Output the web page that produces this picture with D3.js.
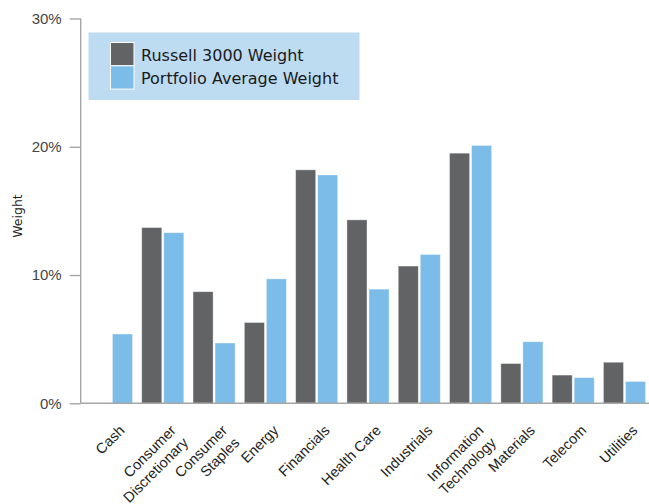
<!DOCTYPE html>
<html lang="en">
<head>
<meta charset="utf-8">
<title>Sector Weights</title>
<script src="https://d3js.org/d3.v7.min.js"></script>
<style type="text/css">
	body { margin: 0; background: #fff; }
	svg { display: block; font-family: "DejaVu Sans", sans-serif; }
	.axis path, .axis line { stroke: #a6a6a6; stroke-width: 1.4px; }
	.yaxis text { font-size: 15px; fill: #444; }
	.xaxis text { font-size: 14.5px; fill: #222; }
</style>
</head>
<body>
<script type="text/javascript">

// data (percent)
var categories = ["Cash", "Consumer\nDiscretionary", "Consumer\nStaples", "Energy", "Financials",
	"Health Care", "Industrials", "Information\nTechnology", "Materials", "Telecom", "Utilities"];
var russell = [0, 13.7, 8.7, 6.3, 18.2, 14.3, 10.7, 19.5, 3.1, 2.2, 3.2];
var portfolio = [5.4, 13.3, 4.7, 9.7, 17.8, 8.9, 11.6, 20.1, 4.8, 2.0, 1.7];
var seriesNames = ["Russell 3000 Weight", "Portfolio Average Weight"];
var yTicks = [0, 10, 20, 30];

var colors = ["#626365", "#7bbce8"];

// window size
var w = 649, h = 504;
var padLeft = 80.7, padTop = 18.5, baseY = 403.3;

var rows = categories.map(function(c, i){
	return {cat: c, values: [russell[i], portfolio[i]]};
});

var svg = d3.select("body").append("svg")
	.attr("width", w)
	.attr("height", h);

// scales
var x0 = d3.scaleBand()
	.domain(categories)
	.range([padLeft, padLeft + 51.3 * 11.2])
	.paddingInner(0.18)
	.paddingOuter(0.19);

var x1 = d3.scaleBand()
	.domain([0, 1])
	.range([0, x0.bandwidth()])
	.paddingInner(0.09);

var y = d3.scaleLinear().domain([0, 30]).range([baseY, padTop]);

// bars
var groups = svg.append("g").selectAll("g")
	.data(rows)
	.enter().append("g")
	.attr("transform", d => "translate(" + x0(d.cat) + ",0)");

groups.selectAll("rect")
	.data(d => d.values.map((v, k) => ({k: k, v: v})).filter(e => e.v > 0))
	.enter().append("rect")
	.attr("x", e => x1(e.k))
	.attr("y", e => y(e.v))
	.attr("width", x1.bandwidth())
	.attr("height", e => y(0) - y(e.v))
	.attr("fill", e => colors[e.k])
	.attr("stroke", "#fff")
	.attr("stroke-opacity", 0.45)
	.attr("stroke-width", 0.8);

// y axis
svg.append("g")
	.attr("class", "axis yaxis")
	.attr("transform", "translate(" + padLeft + ",0)")
	.call(d3.axisLeft(y).tickValues(yTicks).tickSize(11).tickPadding(8).tickFormat(d => d + "%"))
	.call(g => g.select(".domain").attr("d", "M0," + padTop + "V" + baseY));

// x axis
var xg = svg.append("g")
	.attr("class", "axis xaxis")
	.attr("transform", "translate(0," + baseY + ")")
	.call(d3.axisBottom(x0).tickSize(0).tickSizeOuter(0));

xg.select(".domain").attr("d", "M" + padLeft + ",0H" + w);

xg.selectAll(".tick text")
	.attr("y", 0)
	.attr("dy", 0)
	.attr("text-anchor", "end")
	.attr("transform", "translate(14,28) rotate(-45)")
	.each(function(d){
		var t = d3.select(this);
		t.text(null);
		d.split("\n").forEach(function(line, i){
			t.append("tspan").attr("x", 0).attr("dy", i ? "1.2em" : 0).text(line);
		});
	});

// y label
svg.append("text")
	.attr("transform", "translate(21.5,216) rotate(-90)")
	.attr("text-anchor", "middle")
	.style("font-size", "12.5px")
	.attr("fill", "#222")
	.text("Weight");

// legend
var legend = svg.append("g").attr("transform", "translate(88.5,32.5)");
legend.append("rect")
	.attr("width", 271)
	.attr("height", 67.5)
	.attr("fill", "#bddbf1");

var items = legend.selectAll("g.item")
	.data(seriesNames)
	.enter().append("g")
	.attr("class", "item")
	.attr("transform", (d, i) => "translate(22," + (10 + i * 23.3) + ")");

items.append("rect")
	.attr("width", 23.5)
	.attr("height", 23.3)
	.attr("fill", (d, i) => colors[i])
	.attr("stroke", "#fff")
	.attr("stroke-width", 1);

items.append("text")
	.attr("x", 30.5)
	.attr("y", 18.5)
	.style("font-size", "16px")
	.attr("fill", "#1a1a1a")
	.text(d => d);

</script>
</body>
</html>
